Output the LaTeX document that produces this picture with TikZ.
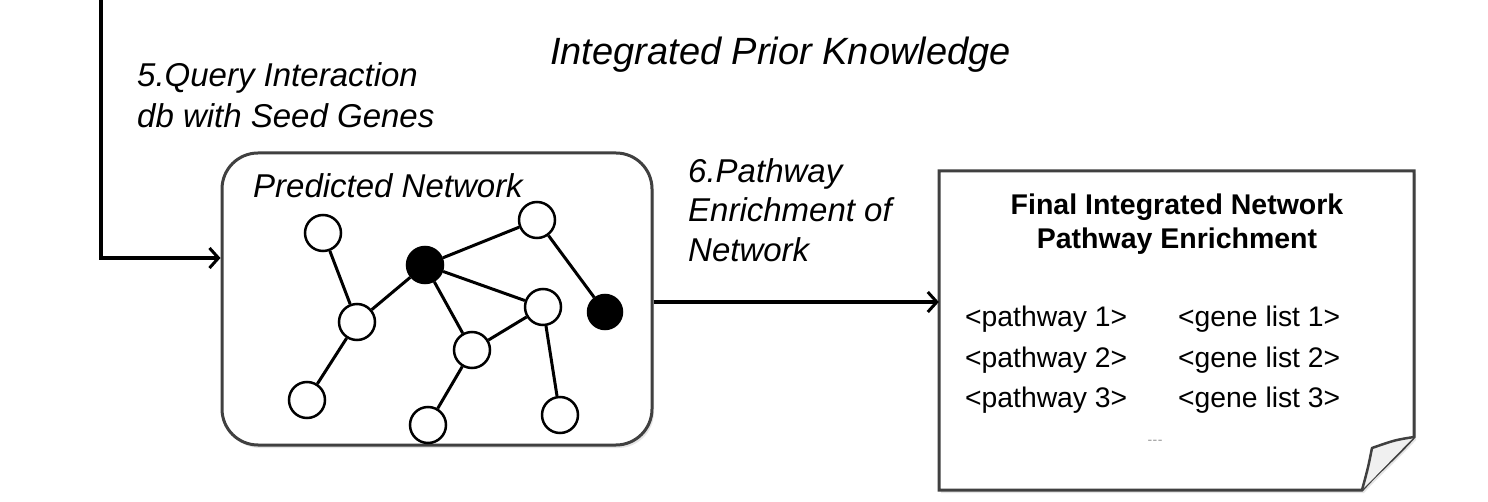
\documentclass[tikz,border=0pt]{standalone}
\usepackage{fontspec}
\setmainfont{Liberation Sans}
\usetikzlibrary{arrows.meta,shadows}
\begin{document}
\begin{tikzpicture}[x=1pt,y=-1pt,
  lbl/.style={anchor=base west,inner sep=0pt,font=\fontsize{33}{38}\selectfont\itshape},
  ttl/.style={anchor=base,inner sep=0pt,font=\fontsize{28.5}{32}\selectfont\bfseries},
  lst/.style={anchor=base west,inner sep=0pt,font=\fontsize{28.3}{32}\selectfont},
  wnode/.style={circle,draw,line width=2.5pt,minimum size=36pt,inner sep=0pt,fill=white},
  bnode/.style={wnode,fill=black},
  edge/.style={line width=3pt},
  conn/.style={line width=3.5pt,-{Straight Barb[length=9pt,width=20pt,line width=3pt]}},
  boxline/.style={line width=3pt,draw=black!75}]
\path[use as bounding box,fill=white] (0,0) rectangle (1488,502);

% predicted network box
\node[boxline,rounded corners=36pt,minimum width=430pt,minimum height=292pt,
  drop shadow={opacity=0.2,shadow xshift=2pt,shadow yshift=-3pt},fill=white] (pnet) at (437,299) {};
\node[lbl] (pnlbl) at (253,198) {Predicted Network};

% network
\node[wnode] (A) at (323,233) {};
\node[bnode] (B) at (425,265) {};
\node[wnode] (C) at (537,220) {};
\node[wnode] (D) at (357,322) {};
\node[wnode] (E) at (543,307) {};
\node[bnode,minimum size=34pt] (F) at (605,312) {};
\node[wnode] (G) at (472,350) {};
\node[wnode] (H) at (307,400) {};
\node[wnode] (I) at (428,425) {};
\node[wnode] (J) at (560,415) {};
\foreach \a/\b in {A/D,D/B,D/H,B/C,B/E,B/G,C/F,E/G,E/J,G/I}
  \draw[edge] (\a) -- (\b);

% document
\node[minimum width=475pt,minimum height=319pt,inner sep=0pt] (doc) at (1176.5,330.5) {};
\draw[boxline,fill=white,drop shadow={opacity=0.2,shadow xshift=2pt,shadow yshift=-3pt}]
  (939,171) -- (1414,171) -- (1414,437) .. controls (1395,458) and (1378,472) .. (1362,490) -- (939,490) -- cycle;
\draw[line width=2.5pt,draw=black!75,fill=black!6,line join=round]
  (1414,437) .. controls (1395,440) .. (1372,448) .. controls (1368,468) .. (1362,490);

\node[ttl] (t1) at (1177,215) {Final Integrated Network};
\node[ttl] (t2) at (1177,249) {Pathway Enrichment};
\node[lst] (p1) at (965,327) {<pathway 1>};
\node[lst] (p2) at (965,367) {<pathway 2>};
\node[lst] (p3) at (965,407) {<pathway 3>};
\node[lst] (g1) at (1178,327) {<gene list 1>};
\node[lst] (g2) at (1178,367) {<gene list 2>};
\node[lst] (g3) at (1178,407) {<gene list 3>};
\node[inner sep=0pt,text=black!40,font=\fontsize{14}{16}\selectfont] (dots) at (1155,442) {-\kern0.5pt-\kern0.5pt-};

% labels
\node[lbl,font=\fontsize{38}{42}\selectfont\itshape] (ipk) at (550,65) {Integrated Prior Knowledge};
\node[lbl] (q1) at (137,87) {5.Query Interaction};
\node[lbl] (q2) at (137,128) {db with Seed Genes};
\node[lbl] (e1) at (688,183) {6.Pathway};
\node[lbl] (e2) at (688,222) {Enrichment of};
\node[lbl] (e3) at (688,262) {Network};

% connectors
\coordinate (top) at (101,-2);
\coordinate (yq) at (0,258);
\coordinate (ye) at (0,302);
\draw[conn] (top) |- (pnet.west |- yq);
\draw[conn] (pnet.east |- ye) -- (doc.west |- ye);
\end{tikzpicture}
\end{document}
